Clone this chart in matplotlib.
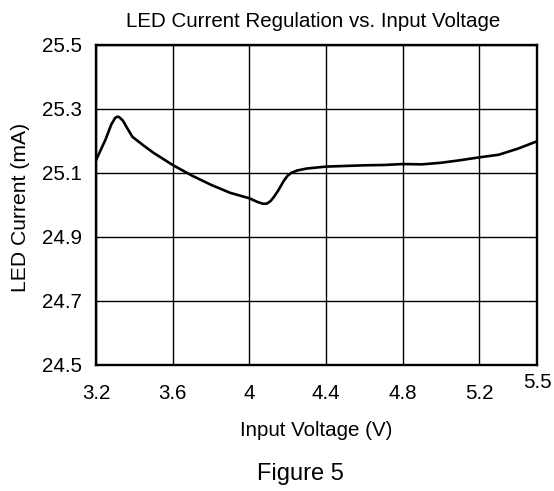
import numpy as np
import matplotlib
matplotlib.use("Agg")
import matplotlib.pyplot as plt
import matplotlib.transforms as mtransforms

plt.rcParams['font.family'] = ['Liberation Sans', 'DejaVu Sans']

# values
vin = [3.20, 3.25, 3.28, 3.30, 3.31, 3.32, 3.34, 3.36, 3.39, 3.45, 3.50, 3.60,
       3.70, 3.80, 3.90, 4.00, 4.04, 4.07, 4.09, 4.11, 4.13, 4.15, 4.18, 4.20,
       4.22, 4.25, 4.30, 4.40, 4.60, 4.70, 4.80, 4.90, 5.00, 5.10, 5.20, 5.30,
       5.40, 5.50]
iled = [25.140, 25.205, 25.252, 25.272, 25.276, 25.275, 25.264, 25.243, 25.213,
        25.185, 25.163, 25.125, 25.092, 25.063, 25.038, 25.021, 25.010, 25.004,
        25.004, 25.012, 25.027, 25.045, 25.076, 25.092, 25.101, 25.108, 25.114,
        25.120, 25.124, 25.125, 25.128, 25.127, 25.132, 25.140, 25.149, 25.157,
        25.176, 25.199]

xticks = [3.2, 3.6, 4.0, 4.4, 4.8, 5.2, 5.5]
xtick_labels = ['3.2', '3.6', '4', '4.4', '4.8', '5.2', '5.5']
yticks = [24.5, 24.7, 24.9, 25.1, 25.3, 25.5]
ytick_labels = ['24.5', '24.7', '24.9', '25.1', '25.3', '25.5']

W, H = 554, 491
fig = plt.figure(figsize=(W / 100, H / 100), dpi=100, facecolor='white')
ax = fig.add_axes([96 / W, 1 - 365 / H, 441 / W, 320 / H])

ax.plot(vin, iled, color='black', lw=1.9, solid_joinstyle='round', zorder=3)

ax.set_xlim(3.2, 5.5)
ax.set_ylim(24.5, 25.5)
ax.set_xticks(xticks)
ax.set_xticklabels(xtick_labels)
ax.set_yticks(yticks)
ax.set_yticklabels(ytick_labels)
ax.tick_params(axis='both', length=0, labelsize=14.8)
ax.tick_params(axis='x', pad=14)
ax.tick_params(axis='y', pad=10)
ax.grid(True, color='black', lw=1.0)
for sp in ax.spines.values():
    sp.set_linewidth(1.7)

# the last x label sits higher in the reference
lbl = ax.get_xticklabels()[-1]
lbl.set_transform(lbl.get_transform() + mtransforms.ScaledTranslation(0, 11 / 100, fig.dpi_scale_trans))

fig.text(313 / W, 1 - 27 / H, 'LED Current Regulation vs. Input Voltage',
         ha='center', va='baseline', fontsize=14.8)
fig.text(316.5 / W, 1 - 436.5 / H, 'Input Voltage (V)',
         ha='center', va='baseline', fontsize=14.8)
fig.text(21 / W, 1 - 207 / H, 'LED Current (mA)', rotation=90,
         ha='center', va='center', fontsize=15.2)
fig.text(300 / W, 1 - 480 / H, 'Figure 5',
         ha='center', va='baseline', fontsize=17)

fig.savefig('out.png', dpi=100, facecolor='white')
